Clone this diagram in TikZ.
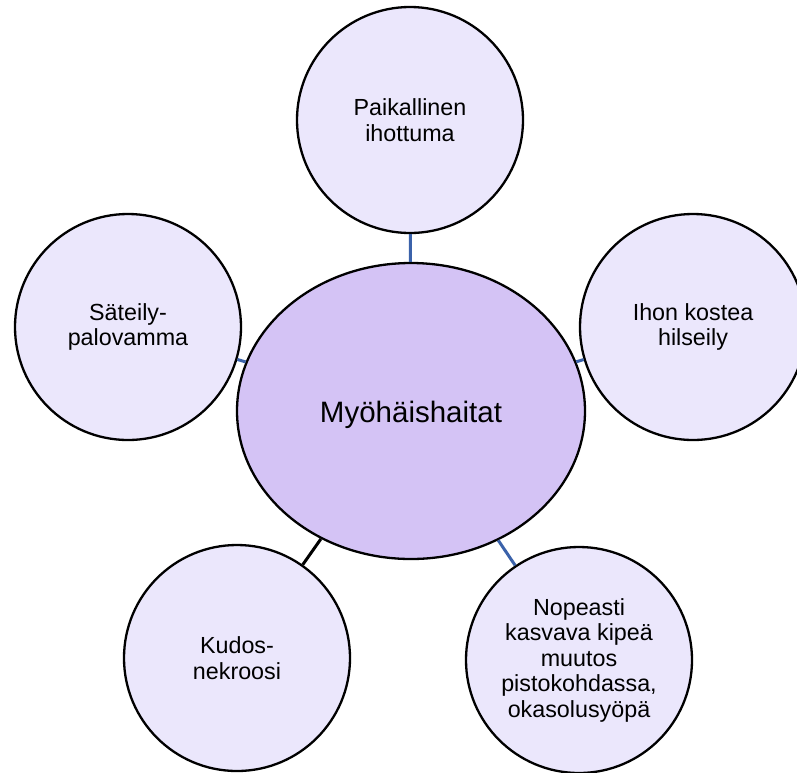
\documentclass[tikz,border=0pt]{standalone}
\usepackage{fontspec}
\setmainfont{Liberation Sans}
\usetikzlibrary{shapes.geometric}
\definecolor{outerfill}{HTML}{EBE7FC}
\definecolor{centerfill}{HTML}{D4C3F5}
\definecolor{linkblue}{HTML}{3B62AA}
\tikzset{
  outer/.style={circle, draw=black, line width=2.3pt, fill=outerfill, minimum size=226pt, inner sep=0pt, align=center, font=\fontsize{23.3}{25.5}\selectfont},
  centre/.style={ellipse, draw=black, line width=2.3pt, fill=centerfill, minimum width=348pt, minimum height=296pt, inner sep=0pt, align=center, font=\fontsize{29.5}{32}\selectfont},
  link/.style={line width=3pt, draw=linkblue},
  linkdark/.style={line width=3pt, draw=black}
}
\begin{document}
\begin{tikzpicture}[x=1pt,y=-1pt]
\useasboundingbox (0,0) rectangle (797,772);
\node[centre] (c) at (411,411) {};
\node[align=center, font=\fontsize{29.5}{32}\selectfont] (ct) at (411,415) {Myöhäishaitat};
\node[outer] (t) at (410,120) {Paikallinen\\ihottuma};
\node[outer] (r) at (693,327) {Ihon kostea\\hilseily};
\node[outer] (l) at (128,327) {Säteily-\\palovamma};
\node[outer] (bl) at (237,658) {Kudos-\\nekroosi};
\node[outer] (br) at (579,660) {Nopeasti\\kasvava kipeä\\muutos\\pistokohdassa,\\okasolusyöpä};
\draw[link] (c) -- (t);
\draw[link] (c) -- (r);
\draw[link] (c) -- (l);
\draw[linkdark] (c) -- (bl);
\draw[link] (c) -- (br);
\end{tikzpicture}
\end{document}
